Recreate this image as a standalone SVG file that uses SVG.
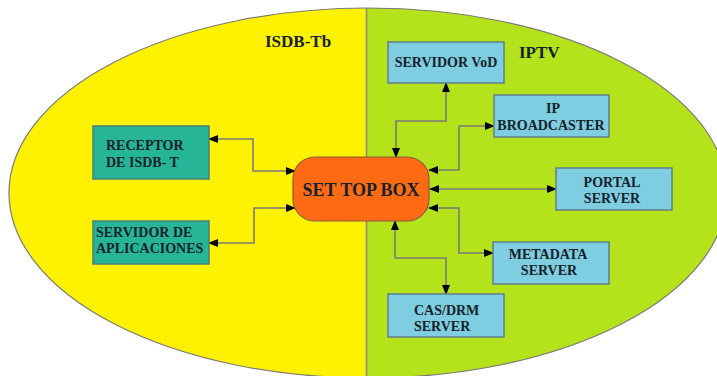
<svg xmlns="http://www.w3.org/2000/svg" width="717" height="376" viewBox="0 0 717 376">
<defs>
<style>
.t{font-family:"Liberation Serif","Times New Roman",serif;font-weight:bold;fill:#14222a}
.s14{font-size:14px}
.title{font-size:17px}
.teal{fill:#26b597;stroke:#4d7f78;stroke-width:1.5}
.blue{fill:#7fcde0;stroke:#5f7f8c;stroke-width:1.5}
.conn{fill:none;stroke:#7a7a7a;stroke-width:1.6;marker-start:url(#ah);marker-end:url(#ah)}
</style>
<marker id="ah" markerUnits="userSpaceOnUse" markerWidth="10" markerHeight="8" refX="9" refY="4" orient="auto-start-reverse" viewBox="0 0 10 8">
<path d="M0,0 L10,4 L0,8 z" fill="#000"/>
</marker>
<clipPath id="right"><rect x="366.5" y="0" width="400" height="380"/></clipPath>
</defs>
<rect width="717" height="376" fill="#fff"/>
<g id="domains">
<ellipse cx="368" cy="193" rx="359" ry="185" fill="#fff200"/>
<ellipse cx="368" cy="193" rx="359" ry="185" fill="#b4e31c" clip-path="url(#right)"/>
<line x1="366.5" y1="8" x2="366.5" y2="378" stroke="#888" stroke-width="1.5"/>
<ellipse cx="368" cy="193" rx="359" ry="185" fill="none" stroke="#7a7a7a" stroke-width="1.2"/>
<text class="t title" x="265" y="47">ISDB-Tb</text>
<text class="t title" x="519" y="58">IPTV</text>
</g>
<g id="connectors">
<path class="conn" d="M209,139 H253 V171 H295"/>
<path class="conn" d="M209,243 H254 V208 H295"/>
<path class="conn" d="M446,83 V121 H396 V157"/>
<path class="conn" d="M494,126 H459 V170 H429"/>
<path class="conn" d="M430,189 H556"/>
<path class="conn" d="M429,208 H459 V253 H493"/>
<path class="conn" d="M395,221 V258 H446 V294"/>
</g>
<g id="stb">
<rect x="293" y="157" width="136" height="64" rx="22" ry="22" fill="#ff6a12" stroke="#8a5a3a" stroke-width="1.2"/>
<text class="t" x="361" y="196" text-anchor="middle" font-size="18">SET TOP BOX</text>
</g>
<g id="receptor">
<rect class="teal" x="93" y="126" width="116" height="53"/>
<text class="t s14" x="106" y="150">RECEPTOR</text>
<text class="t s14" x="106" y="167">DE ISDB- T</text>
</g>
<g id="aplicaciones">
<rect class="teal" x="93" y="221" width="116" height="43"/>
<text class="t s14" x="96" y="237">SERVIDOR DE</text>
<text class="t s14" x="96" y="253">APLICACIONES</text>
</g>
<g id="vod">
<rect class="blue" x="388" y="42" width="116" height="41"/>
<text class="t s14" x="446" y="67" text-anchor="middle">SERVIDOR VoD</text>
</g>
<g id="ipbroadcaster">
<rect class="blue" x="494" y="95" width="115" height="42"/>
<text class="t s14" x="553" y="113" text-anchor="middle">IP</text>
<text class="t s14" x="551" y="130" text-anchor="middle">BROADCASTER</text>
</g>
<g id="portal">
<rect class="blue" x="556" y="168" width="116" height="42"/>
<text class="t s14" x="612" y="187" text-anchor="middle">PORTAL</text>
<text class="t s14" x="612" y="203" text-anchor="middle">SERVER</text>
</g>
<g id="metadata">
<rect class="blue" x="493" y="242" width="116" height="42"/>
<text class="t s14" x="548" y="259" text-anchor="middle">METADATA</text>
<text class="t s14" x="549" y="275" text-anchor="middle">SERVER</text>
</g>
<g id="casdrm">
<rect class="blue" x="388" y="294" width="116" height="43"/>
<text class="t s14" x="414" y="315">CAS/DRM</text>
<text class="t s14" x="414" y="331">SERVER</text>
</g>
</svg>
